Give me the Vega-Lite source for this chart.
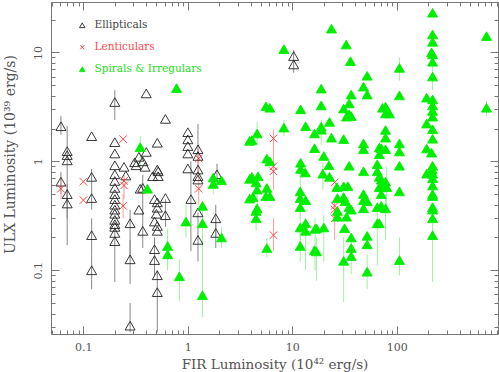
{
"$schema": "https://vega.github.io/schema/vega-lite/v6.json",
"width": 447, "height": 332,
"autosize": {"type": "none"},
"padding": {"left": 51, "top": 2, "right": 1, "bottom": 38},
"background": "white",
"config": {"view": {"stroke": "#777", "strokeWidth": 1}, "font": "DejaVu Serif"},
"data": {"values": [
{"t":"Ellipticals","x":0.061,"y":2.1,"lo":1.75,"hi":2.6},
{"t":"Ellipticals","x":0.061,"y":0.65,"lo":0.5,"hi":0.8},
{"t":"Ellipticals","x":0.07,"y":1.24},
{"t":"Ellipticals","x":0.07,"y":1.14},
{"t":"Ellipticals","x":0.07,"y":1.02,"lo":0.17,"hi":2.1},
{"t":"Ellipticals","x":0.07,"y":0.5,"lo":0.4,"hi":0.62},
{"t":"Ellipticals","x":0.07,"y":0.41,"lo":0.3,"hi":0.55},
{"t":"Ellipticals","x":0.12,"y":1.7},
{"t":"Ellipticals","x":0.12,"y":0.72,"lo":0.6,"hi":0.85},
{"t":"Ellipticals","x":0.12,"y":0.46,"lo":0.36,"hi":0.6},
{"t":"Ellipticals","x":0.12,"y":0.21,"lo":0.14,"hi":0.3},
{"t":"Ellipticals","x":0.12,"y":0.1,"lo":0.067,"hi":0.14},
{"t":"Ellipticals","x":0.2,"y":3.5,"lo":2.4,"hi":4.5},
{"t":"Ellipticals","x":0.2,"y":1.5},
{"t":"Ellipticals","x":0.2,"y":1.18},
{"t":"Ellipticals","x":0.2,"y":0.92},
{"t":"Ellipticals","x":0.2,"y":0.76},
{"t":"Ellipticals","x":0.2,"y":0.66},
{"t":"Ellipticals","x":0.2,"y":0.57},
{"t":"Ellipticals","x":0.2,"y":0.5},
{"t":"Ellipticals","x":0.2,"y":0.45},
{"t":"Ellipticals","x":0.2,"y":0.4},
{"t":"Ellipticals","x":0.2,"y":0.36},
{"t":"Ellipticals","x":0.2,"y":0.33},
{"t":"Ellipticals","x":0.2,"y":0.29},
{"t":"Ellipticals","x":0.2,"y":0.265},
{"t":"Ellipticals","x":0.2,"y":0.25},
{"t":"Ellipticals","x":0.2,"y":0.22},
{"t":"Ellipticals","x":0.2,"y":0.185,"lo":0.078,"hi":0.25},
{"t":"Ellipticals","x":0.245,"y":0.89},
{"t":"Ellipticals","x":0.255,"y":0.74},
{"t":"Ellipticals","x":0.28,"y":0.27,"lo":0.13,"hi":0.36},
{"t":"Ellipticals","x":0.28,"y":0.126,"lo":0.075,"hi":0.19},
{"t":"Ellipticals","x":0.28,"y":0.031,"lo":0.027,"hi":0.05},
{"t":"Ellipticals","x":0.31,"y":0.98},
{"t":"Ellipticals","x":0.32,"y":0.92},
{"t":"Ellipticals","x":0.34,"y":1.1},
{"t":"Ellipticals","x":0.34,"y":0.36},
{"t":"Ellipticals","x":0.35,"y":0.56},
{"t":"Ellipticals","x":0.37,"y":1.0},
{"t":"Ellipticals","x":0.37,"y":0.57,"lo":0.16,"hi":0.75},
{"t":"Ellipticals","x":0.37,"y":0.23},
{"t":"Ellipticals","x":0.39,"y":0.89},
{"t":"Ellipticals","x":0.4,"y":4.2},
{"t":"Ellipticals","x":0.4,"y":1.22},
{"t":"Ellipticals","x":0.46,"y":0.73},
{"t":"Ellipticals","x":0.48,"y":0.45},
{"t":"Ellipticals","x":0.48,"y":0.28},
{"t":"Ellipticals","x":0.48,"y":0.156,"lo":0.09,"hi":0.2},
{"t":"Ellipticals","x":0.48,"y":0.124},
{"t":"Ellipticals","x":0.51,"y":1.48},
{"t":"Ellipticals","x":0.51,"y":0.84},
{"t":"Ellipticals","x":0.52,"y":0.73},
{"t":"Ellipticals","x":0.52,"y":0.81},
{"t":"Ellipticals","x":0.51,"y":0.42},
{"t":"Ellipticals","x":0.51,"y":0.375},
{"t":"Ellipticals","x":0.5,"y":0.33},
{"t":"Ellipticals","x":0.51,"y":0.255},
{"t":"Ellipticals","x":0.51,"y":0.23},
{"t":"Ellipticals","x":0.51,"y":0.09},
{"t":"Ellipticals","x":0.51,"y":0.063,"lo":0.027,"hi":0.1},
{"t":"Ellipticals","x":0.61,"y":2.45},
{"t":"Ellipticals","x":0.61,"y":0.46},
{"t":"Ellipticals","x":0.61,"y":0.32,"lo":0.25,"hi":0.45},
{"t":"Ellipticals","x":1.0,"y":1.85},
{"t":"Ellipticals","x":1.0,"y":1.59},
{"t":"Ellipticals","x":1.0,"y":1.38},
{"t":"Ellipticals","x":1.0,"y":1.18},
{"t":"Ellipticals","x":1.0,"y":0.86},
{"t":"Ellipticals","x":1.07,"y":0.45,"lo":0.15,"hi":1.0},
{"t":"Ellipticals","x":1.25,"y":1.29,"lo":0.8,"hi":2.2},
{"t":"Ellipticals","x":1.25,"y":1.12},
{"t":"Ellipticals","x":1.25,"y":0.84},
{"t":"Ellipticals","x":1.25,"y":0.73},
{"t":"Ellipticals","x":1.25,"y":0.68},
{"t":"Ellipticals","x":1.25,"y":0.34},
{"t":"Ellipticals","x":1.25,"y":0.19,"lo":0.12,"hi":0.34},
{"t":"Ellipticals","x":1.9,"y":0.76,"lo":0.6,"hi":0.95},
{"t":"Ellipticals","x":1.85,"y":0.3,"lo":0.2,"hi":0.4},
{"t":"Ellipticals","x":1.85,"y":0.22,"lo":0.16,"hi":0.3},
{"t":"Ellipticals","x":10.3,"y":9.25},
{"t":"Ellipticals","x":10.3,"y":7.75,"lo":6.5,"hi":10.5},
{"t":"Lenticulars","x":0.061,"y":0.56,"lo":0.45,"hi":0.7},
{"t":"Lenticulars","x":0.1,"y":0.65},
{"t":"Lenticulars","x":0.1,"y":0.44},
{"t":"Lenticulars","x":0.24,"y":1.6},
{"t":"Lenticulars","x":0.245,"y":0.66},
{"t":"Lenticulars","x":0.245,"y":0.6,"lo":0.45,"hi":0.75},
{"t":"Lenticulars","x":0.24,"y":0.39,"lo":0.3,"hi":0.5},
{"t":"Lenticulars","x":1.27,"y":1.06,"lo":0.8,"hi":1.3},
{"t":"Lenticulars","x":1.27,"y":0.56,"lo":0.4,"hi":0.8},
{"t":"Lenticulars","x":6.6,"y":1.62,"lo":1.3,"hi":1.95},
{"t":"Lenticulars","x":6.6,"y":0.9,"lo":0.55,"hi":1.4},
{"t":"Lenticulars","x":6.6,"y":0.81},
{"t":"Lenticulars","x":6.6,"y":0.21,"lo":0.15,"hi":0.3},
{"t":"Lenticulars","x":25.4,"y":0.64},
{"t":"Lenticulars","x":25.4,"y":0.39},
{"t":"Lenticulars","x":25.4,"y":0.36},
{"t":"Lenticulars","x":25.4,"y":0.3,"lo":0.19,"hi":0.42},
{"t":"Spirals & Irregulars","x":0.35,"y":1.35,"lo":0.9,"hi":1.7},
{"t":"Spirals & Irregulars","x":0.41,"y":0.56},
{"t":"Spirals & Irregulars","x":0.78,"y":4.7},
{"t":"Spirals & Irregulars","x":0.96,"y":0.28,"lo":0.2,"hi":0.4},
{"t":"Spirals & Irregulars","x":0.64,"y":0.167,"lo":0.1,"hi":0.24},
{"t":"Spirals & Irregulars","x":0.64,"y":0.14,"lo":0.1,"hi":0.2},
{"t":"Spirals & Irregulars","x":0.83,"y":0.088,"lo":0.052,"hi":0.126},
{"t":"Spirals & Irregulars","x":1.38,"y":0.39},
{"t":"Spirals & Irregulars","x":1.38,"y":0.27,"lo":0.09,"hi":0.43},
{"t":"Spirals & Irregulars","x":1.38,"y":0.059,"lo":0.037,"hi":0.09},
{"t":"Spirals & Irregulars","x":2.1,"y":0.2,"lo":0.16,"hi":0.25},
{"t":"Spirals & Irregulars","x":1.75,"y":0.71},
{"t":"Spirals & Irregulars","x":1.75,"y":0.62,"lo":0.5,"hi":0.75},
{"t":"Spirals & Irregulars","x":2.1,"y":0.67},
{"t":"Spirals & Irregulars","x":3.9,"y":1.54},
{"t":"Spirals & Irregulars","x":3.9,"y":0.69},
{"t":"Spirals & Irregulars","x":3.9,"y":0.455},
{"t":"Spirals & Irregulars","x":4.1,"y":1.57},
{"t":"Spirals & Irregulars","x":4.6,"y":1.8,"lo":1.4,"hi":2.3},
{"t":"Spirals & Irregulars","x":5.6,"y":3.2},
{"t":"Spirals & Irregulars","x":5.7,"y":1.06},
{"t":"Spirals & Irregulars","x":4.1,"y":0.72},
{"t":"Spirals & Irregulars","x":4.7,"y":0.73},
{"t":"Spirals & Irregulars","x":4.5,"y":0.64},
{"t":"Spirals & Irregulars","x":4.6,"y":0.55,"lo":0.4,"hi":0.75},
{"t":"Spirals & Irregulars","x":4.2,"y":0.47},
{"t":"Spirals & Irregulars","x":5.7,"y":0.57},
{"t":"Spirals & Irregulars","x":5.6,"y":0.48},
{"t":"Spirals & Irregulars","x":4.6,"y":0.37},
{"t":"Spirals & Irregulars","x":4.5,"y":0.35},
{"t":"Spirals & Irregulars","x":4.5,"y":0.3,"lo":0.23,"hi":0.4},
{"t":"Spirals & Irregulars","x":5.7,"y":0.16,"lo":0.13,"hi":0.2},
{"t":"Spirals & Irregulars","x":6.1,"y":3.1},
{"t":"Spirals & Irregulars","x":6.1,"y":1.0},
{"t":"Spirals & Irregulars","x":6.1,"y":0.48},
{"t":"Spirals & Irregulars","x":8.3,"y":10.7},
{"t":"Spirals & Irregulars","x":8.3,"y":2.04,"lo":1.7,"hi":2.4},
{"t":"Spirals & Irregulars","x":12,"y":3.0},
{"t":"Spirals & Irregulars","x":12,"y":0.97},
{"t":"Spirals & Irregulars","x":12,"y":0.85},
{"t":"Spirals & Irregulars","x":11.9,"y":0.53,"lo":0.3,"hi":0.9},
{"t":"Spirals & Irregulars","x":11.9,"y":0.46},
{"t":"Spirals & Irregulars","x":11.9,"y":0.38},
{"t":"Spirals & Irregulars","x":11.9,"y":0.247,"lo":0.15,"hi":0.45},
{"t":"Spirals & Irregulars","x":11.9,"y":0.167,"lo":0.12,"hi":0.25},
{"t":"Spirals & Irregulars","x":13.4,"y":2.1},
{"t":"Spirals & Irregulars","x":13.3,"y":0.79},
{"t":"Spirals & Irregulars","x":13.4,"y":0.44},
{"t":"Spirals & Irregulars","x":13.4,"y":0.27},
{"t":"Spirals & Irregulars","x":13.4,"y":0.23,"lo":0.1,"hi":0.3},
{"t":"Spirals & Irregulars","x":16.3,"y":1.8},
{"t":"Spirals & Irregulars","x":16.3,"y":1.32},
{"t":"Spirals & Irregulars","x":16.5,"y":0.24,"lo":0.1,"hi":0.3},
{"t":"Spirals & Irregulars","x":17,"y":0.243},
{"t":"Spirals & Irregulars","x":16.3,"y":0.153},
{"t":"Spirals & Irregulars","x":17,"y":0.149,"lo":0.08,"hi":0.2},
{"t":"Spirals & Irregulars","x":18.9,"y":4.65},
{"t":"Spirals & Irregulars","x":18.9,"y":3.26},
{"t":"Spirals & Irregulars","x":18.9,"y":2.08},
{"t":"Spirals & Irregulars","x":18.9,"y":1.95,"lo":1.4,"hi":2.4},
{"t":"Spirals & Irregulars","x":19.6,"y":0.77,"lo":0.55,"hi":0.95},
{"t":"Spirals & Irregulars","x":20,"y":1.12},
{"t":"Spirals & Irregulars","x":20,"y":0.247,"lo":0.12,"hi":0.32},
{"t":"Spirals & Irregulars","x":22.4,"y":0.92},
{"t":"Spirals & Irregulars","x":22.7,"y":2.3},
{"t":"Spirals & Irregulars","x":22.7,"y":0.72},
{"t":"Spirals & Irregulars","x":23.7,"y":16.5},
{"t":"Spirals & Irregulars","x":23.7,"y":1.65},
{"t":"Spirals & Irregulars","x":26.7,"y":0.58},
{"t":"Spirals & Irregulars","x":27,"y":0.46},
{"t":"Spirals & Irregulars","x":27,"y":0.35},
{"t":"Spirals & Irregulars","x":27,"y":0.31},
{"t":"Spirals & Irregulars","x":31,"y":1.6},
{"t":"Spirals & Irregulars","x":31,"y":3.05},
{"t":"Spirals & Irregulars","x":31,"y":0.59},
{"t":"Spirals & Irregulars","x":31,"y":0.47},
{"t":"Spirals & Irregulars","x":31.6,"y":0.243},
{"t":"Spirals & Irregulars","x":31,"y":0.122,"lo":0.051,"hi":0.2},
{"t":"Spirals & Irregulars","x":32,"y":0.43},
{"t":"Spirals & Irregulars","x":33,"y":2.57},
{"t":"Spirals & Irregulars","x":33,"y":0.31},
{"t":"Spirals & Irregulars","x":32.8,"y":11.8},
{"t":"Spirals & Irregulars","x":34,"y":0.59},
{"t":"Spirals & Irregulars","x":35,"y":3.4},
{"t":"Spirals & Irregulars","x":35,"y":2.7},
{"t":"Spirals & Irregulars","x":35,"y":0.91},
{"t":"Spirals & Irregulars","x":35,"y":0.38},
{"t":"Spirals & Irregulars","x":36,"y":8.3},
{"t":"Spirals & Irregulars","x":36.6,"y":4.1},
{"t":"Spirals & Irregulars","x":36.6,"y":2.6},
{"t":"Spirals & Irregulars","x":36.6,"y":0.36},
{"t":"Spirals & Irregulars","x":36.6,"y":0.2},
{"t":"Spirals & Irregulars","x":36.6,"y":0.16},
{"t":"Spirals & Irregulars","x":36.6,"y":0.135,"lo":0.092,"hi":0.2},
{"t":"Spirals & Irregulars","x":48,"y":4.85},
{"t":"Spirals & Irregulars","x":48,"y":1.46},
{"t":"Spirals & Irregulars","x":48,"y":1.29},
{"t":"Spirals & Irregulars","x":48,"y":0.81},
{"t":"Spirals & Irregulars","x":48,"y":0.5},
{"t":"Spirals & Irregulars","x":48,"y":0.44},
{"t":"Spirals & Irregulars","x":48,"y":0.37},
{"t":"Spirals & Irregulars","x":52,"y":6.1},
{"t":"Spirals & Irregulars","x":52,"y":4.1},
{"t":"Spirals & Irregulars","x":52,"y":0.43},
{"t":"Spirals & Irregulars","x":52,"y":0.207},
{"t":"Spirals & Irregulars","x":52,"y":0.173},
{"t":"Spirals & Irregulars","x":52,"y":0.097,"lo":0.067,"hi":0.14},
{"t":"Spirals & Irregulars","x":65,"y":0.94},
{"t":"Spirals & Irregulars","x":65,"y":0.81},
{"t":"Spirals & Irregulars","x":65,"y":0.38},
{"t":"Spirals & Irregulars","x":65,"y":0.27,"lo":0.11,"hi":0.38},
{"t":"Spirals & Irregulars","x":68,"y":1.34},
{"t":"Spirals & Irregulars","x":68,"y":1.16},
{"t":"Spirals & Irregulars","x":68,"y":0.72},
{"t":"Spirals & Irregulars","x":68,"y":0.58},
{"t":"Spirals & Irregulars","x":68,"y":0.27},
{"t":"Spirals & Irregulars","x":71,"y":1.32},
{"t":"Spirals & Irregulars","x":71,"y":0.68},
{"t":"Spirals & Irregulars","x":71,"y":0.58},
{"t":"Spirals & Irregulars","x":71,"y":0.5},
{"t":"Spirals & Irregulars","x":71,"y":0.39},
{"t":"Spirals & Irregulars","x":73,"y":3.1},
{"t":"Spirals & Irregulars","x":78,"y":3.18},
{"t":"Spirals & Irregulars","x":78,"y":2.75},
{"t":"Spirals & Irregulars","x":85,"y":2.75},
{"t":"Spirals & Irregulars","x":78,"y":1.94},
{"t":"Spirals & Irregulars","x":78,"y":1.65},
{"t":"Spirals & Irregulars","x":78,"y":1.29},
{"t":"Spirals & Irregulars","x":78,"y":0.65},
{"t":"Spirals & Irregulars","x":80,"y":0.58,"lo":0.35,"hi":0.9},
{"t":"Spirals & Irregulars","x":78,"y":0.37,"lo":0.19,"hi":0.5},
{"t":"Spirals & Irregulars","x":106,"y":7.2,"lo":5.5,"hi":9},
{"t":"Spirals & Irregulars","x":106,"y":4.03},
{"t":"Spirals & Irregulars","x":106,"y":1.46},
{"t":"Spirals & Irregulars","x":106,"y":1.23},
{"t":"Spirals & Irregulars","x":106,"y":0.91},
{"t":"Spirals & Irregulars","x":106,"y":0.53},
{"t":"Spirals & Irregulars","x":106,"y":0.124,"lo":0.09,"hi":0.2},
{"t":"Spirals & Irregulars","x":193,"y":3.84},
{"t":"Spirals & Irregulars","x":193,"y":2.22},
{"t":"Spirals & Irregulars","x":193,"y":1.31},
{"t":"Spirals & Irregulars","x":193,"y":0.77},
{"t":"Spirals & Irregulars","x":215,"y":10.0},
{"t":"Spirals & Irregulars","x":215,"y":1.2},
{"t":"Spirals & Irregulars","x":220,"y":23.1},
{"t":"Spirals & Irregulars","x":220,"y":14.6},
{"t":"Spirals & Irregulars","x":220,"y":12.5},
{"t":"Spirals & Irregulars","x":220,"y":9.6},
{"t":"Spirals & Irregulars","x":220,"y":8.2},
{"t":"Spirals & Irregulars","x":220,"y":6.0,"lo":4.5,"hi":7.5},
{"t":"Spirals & Irregulars","x":220,"y":3.7},
{"t":"Spirals & Irregulars","x":220,"y":3.26},
{"t":"Spirals & Irregulars","x":220,"y":2.9},
{"t":"Spirals & Irregulars","x":220,"y":2.57},
{"t":"Spirals & Irregulars","x":220,"y":1.97},
{"t":"Spirals & Irregulars","x":220,"y":1.61},
{"t":"Spirals & Irregulars","x":220,"y":0.91},
{"t":"Spirals & Irregulars","x":218,"y":0.84},
{"t":"Spirals & Irregulars","x":220,"y":0.77},
{"t":"Spirals & Irregulars","x":220,"y":0.7},
{"t":"Spirals & Irregulars","x":220,"y":0.6},
{"t":"Spirals & Irregulars","x":220,"y":0.5},
{"t":"Spirals & Irregulars","x":220,"y":0.48},
{"t":"Spirals & Irregulars","x":220,"y":0.38},
{"t":"Spirals & Irregulars","x":220,"y":0.36},
{"t":"Spirals & Irregulars","x":220,"y":0.3},
{"t":"Spirals & Irregulars","x":220,"y":0.21,"lo":0.078,"hi":0.3},
{"t":"Spirals & Irregulars","x":722,"y":14.1},
{"t":"Spirals & Irregulars","x":722,"y":3.1,"lo":2.6,"hi":3.6}
]},
"layer": [
{
"transform": [{"filter": "isValid(datum.lo)"}],
"mark": {"type": "rule", "strokeWidth": 1},
"encoding": {
"x": {"field": "x", "type": "quantitative", "scale": {"type": "log", "domain": [0.049, 930]},
"axis": {"orient": "top", "labels": false, "title": null, "domain": false, "grid": false, "tickColor": "#777", "tickWidth": 1,
"values": [0.05,0.06,0.07,0.08,0.09,0.1,0.2,0.3,0.4,0.5,0.6,0.7,0.8,0.9,1,2,3,4,5,6,7,8,9,10,20,30,40,50,60,70,80,90,100,200,300,400,500,600,700,800,900],
"tickSize": {"condition": {"test": "abs(log(datum.value)/LN10 - round(log(datum.value)/LN10)) < 0.001", "value": -8}, "value": -4}}},
"y": {"field": "lo", "type": "quantitative", "scale": {"type": "log", "domain": [0.026, 29]},
"axis": {"orient": "right", "labels": false, "title": null, "domain": false, "grid": false, "tickColor": "#777", "tickWidth": 1,
"values": [0.03,0.04,0.05,0.06,0.07,0.08,0.09,0.1,0.2,0.3,0.4,0.5,0.6,0.7,0.8,0.9,1,2,3,4,5,6,7,8,9,10,20],
"tickSize": {"condition": {"test": "abs(log(datum.value)/LN10 - round(log(datum.value)/LN10)) < 0.001", "value": -8}, "value": -4}}},
"y2": {"field": "hi"},
"stroke": {"field": "t", "type": "nominal", "legend": null,
"scale": {"domain": ["Ellipticals", "Lenticulars", "Spirals & Irregulars"], "range": ["#888888", "#ff9c9c", "#a0f0a0"]}}
}
},
{
"mark": {"type": "point", "filled": true, "opacity": 1, "strokeWidth": 0.9, "size": 100},
"encoding": {
"x": {"field": "x", "type": "quantitative", "scale": {"type": "log", "domain": [0.049, 930]},
"axis": {"orient": "bottom", "domain": false, "grid": false, "tickColor": "#777", "tickWidth": 1,
"values": [0.05,0.06,0.07,0.08,0.09,0.1,0.2,0.3,0.4,0.5,0.6,0.7,0.8,0.9,1,2,3,4,5,6,7,8,9,10,20,30,40,50,60,70,80,90,100,200,300,400,500,600,700,800,900],
"tickSize": {"condition": {"test": "abs(log(datum.value)/LN10 - round(log(datum.value)/LN10)) < 0.001", "value": -8}, "value": -4},
"format": "~g",
"labelExpr": "abs(log(datum.value)/LN10 - round(log(datum.value)/LN10)) < 0.001 ? datum.label : ''",
"labelOverlap": false, "labelFlush": false, "labelBound": false,
"labelFont": "DejaVu Serif", "labelFontSize": 11, "labelColor": "#555", "labelPadding": 15,
"title": "FIR Luminosity (10⁴² erg/s)", "titleFont": "DejaVu Serif", "titleFontSize": 13.5, "titleFontWeight": "normal", "titleColor": "#555",
"titleY": 30, "titleBaseline": "middle"}},
"y": {"field": "y", "type": "quantitative", "scale": {"type": "log", "domain": [0.026, 29]},
"axis": {"orient": "left", "domain": false, "grid": false, "tickColor": "#777", "tickWidth": 1,
"values": [0.03,0.04,0.05,0.06,0.07,0.08,0.09,0.1,0.2,0.3,0.4,0.5,0.6,0.7,0.8,0.9,1,2,3,4,5,6,7,8,9,10,20],
"tickSize": {"condition": {"test": "abs(log(datum.value)/LN10 - round(log(datum.value)/LN10)) < 0.001", "value": -8}, "value": -4},
"format": "~g",
"labelExpr": "abs(log(datum.value)/LN10 - round(log(datum.value)/LN10)) < 0.001 ? datum.label : ''",
"labelOverlap": false, "labelFlush": false, "labelBound": false,
"labelAngle": 270, "labelAlign": "center", "labelBaseline": "bottom",
"labelFont": "DejaVu Serif", "labelFontSize": 11, "labelColor": "#555", "labelPadding": 16,
"title": "ULX Luminosity (10³⁹ erg/s)", "titleFont": "DejaVu Serif", "titleFontSize": 14, "titleFontWeight": "normal", "titleColor": "#555",
"titleX": -41, "titleY": 152, "titleAngle": 270, "titleAlign": "center", "titleBaseline": "middle"}},
"shape": {"field": "t", "type": "nominal",
"scale": {"domain": ["Ellipticals", "Lenticulars", "Spirals & Irregulars"], "range": ["triangle-up", "M-0.75,-0.75L0.75,0.75M-0.75,0.75L0.75,-0.75", "triangle-up"]},
"legend": {"title": null, "orient": "none", "legendX": 26, "legendY": 18, "padding": 0, "symbolSize": 30, "symbolStrokeWidth": 0.9,
"symbolFillColor": {"expr": "datum.label == 'Spirals & Irregulars' ? '#00ee00' : 'transparent'"},
"symbolStrokeColor": {"expr": "datum.label == 'Lenticulars' ? '#ff3333' : datum.label == 'Spirals & Irregulars' ? '#00ee00' : '#222222'"},
"labelFont": "DejaVu Serif", "labelFontSize": 10.5, "rowPadding": 11, "labelOffset": 7,
"labelColor": {"expr": "datum.label == 'Lenticulars' ? '#ff4a4a' : datum.label == 'Spirals & Irregulars' ? '#22dd22' : '#444444'"}}},
"fill": {"field": "t", "type": "nominal", "legend": null,
"scale": {"domain": ["Ellipticals", "Lenticulars", "Spirals & Irregulars"], "range": ["transparent", "#ff3333", "#00ee00"]}},
"stroke": {"field": "t", "type": "nominal", "legend": null,
"scale": {"domain": ["Ellipticals", "Lenticulars", "Spirals & Irregulars"], "range": ["#222222", "#ff3333", "#00ee00"]}}
}
}
],
"resolve": {"scale": {"stroke": "independent"}, "axis": {"x": "independent", "y": "independent"}}
}
